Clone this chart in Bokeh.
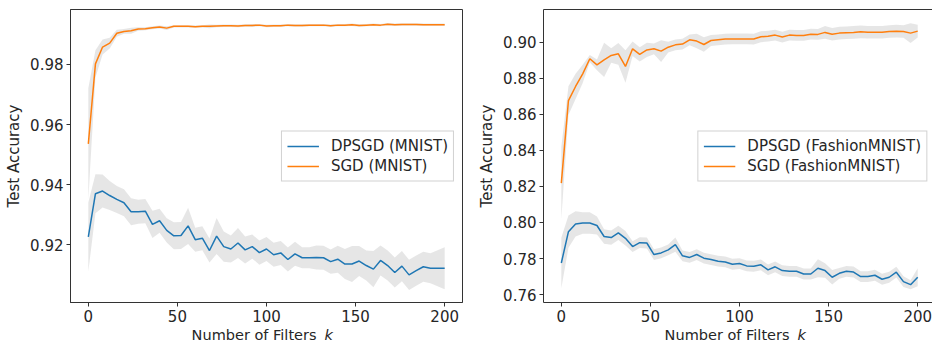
from bokeh.plotting import figure
from bokeh.models import Range1d, FixedTicker, PrintfTickFormatter, Legend, LegendItem, Label, LinearAxis
from bokeh.layouts import row, column
from bokeh.embed import file_html
from bokeh.resources import INLINE

# ---------------- data ----------------
k_filters = [0, 4, 8, 12, 16, 20, 24, 28, 32, 36, 40, 44, 48, 52, 56, 60, 64, 68, 72, 76,
             80, 84, 88, 92, 96, 100, 104, 108, 112, 116, 120, 124, 128, 132, 136, 140,
             144, 148, 152, 156, 160, 164, 168, 172, 176, 180, 184, 188, 192, 196, 200]

mnist_sgd_mean = [0.9536, 0.9802, 0.9858, 0.9871, 0.9904, 0.9910, 0.9912, 0.9918, 0.9919, 0.9922,
                  0.9925, 0.9921, 0.9927, 0.9927, 0.9927, 0.9926, 0.9927, 0.9927, 0.9928, 0.9929,
                  0.9929, 0.9928, 0.9930, 0.9930, 0.9931, 0.9928, 0.9929, 0.9929, 0.9931, 0.9930,
                  0.9930, 0.9931, 0.9931, 0.9931, 0.9929, 0.9931, 0.9931, 0.9932, 0.9930, 0.9931,
                  0.9932, 0.9931, 0.9934, 0.9932, 0.9933, 0.9933, 0.9933, 0.9932, 0.9932, 0.9932, 0.9932]
mnist_sgd_hw = [0.0185, 0.0045, 0.0025, 0.0018, 0.0012, 0.0008, 0.0010, 0.0006, 0.0005, 0.0005,
                0.0005, 0.0006, 0.0004, 0.0004, 0.0004, 0.0004, 0.0004, 0.0006, 0.0004, 0.0004,
                0.0004, 0.0004, 0.0004, 0.0005, 0.0004, 0.0004, 0.0004, 0.0004, 0.0004, 0.0004,
                0.0004, 0.0004, 0.0004, 0.0004, 0.0004, 0.0004, 0.0004, 0.0004, 0.0004, 0.0004,
                0.0004, 0.0004, 0.0004, 0.0004, 0.0004, 0.0004, 0.0004, 0.0004, 0.0004, 0.0004, 0.0004]

mnist_dp_mean = [0.9226, 0.9370, 0.9379, 0.9364, 0.9351, 0.9340, 0.9310, 0.9310, 0.9312, 0.9268,
                 0.9280, 0.9248, 0.9230, 0.9231, 0.9263, 0.9217, 0.9222, 0.9181, 0.9229, 0.9194,
                 0.9186, 0.9206, 0.9183, 0.9194, 0.9174, 0.9186, 0.9167, 0.9173, 0.9151, 0.9170,
                 0.9157, 0.9157, 0.9158, 0.9157, 0.9144, 0.9152, 0.9136, 0.9136, 0.9146, 0.9131,
                 0.9119, 0.9148, 0.9131, 0.9108, 0.9129, 0.9100, 0.9114, 0.9127, 0.9122, 0.9122, 0.9122]
mnist_dp_hw = [0.0115, 0.0065, 0.0055, 0.0048, 0.0045, 0.0045, 0.0045, 0.0040, 0.0040, 0.0045,
               0.0040, 0.0040, 0.0045, 0.0045, 0.0060, 0.0040, 0.0040, 0.0040, 0.0060, 0.0050,
               0.0045, 0.0050, 0.0045, 0.0040, 0.0040, 0.0040, 0.0040, 0.0040, 0.0040, 0.0040,
               0.0035, 0.0035, 0.0040, 0.0040, 0.0040, 0.0045, 0.0050, 0.0060, 0.0050, 0.0050,
               0.0060, 0.0050, 0.0050, 0.0050, 0.0050, 0.0050, 0.0050, 0.0050, 0.0050, 0.0060, 0.0070]

fashion_sgd_mean = [0.8218, 0.8676, 0.8754, 0.8824, 0.8908, 0.8874, 0.8902, 0.8926, 0.8935, 0.8865,
                    0.8963, 0.8932, 0.8957, 0.8963, 0.8950, 0.8972, 0.8985, 0.8989, 0.9013, 0.9006,
                    0.8987, 0.9009, 0.9013, 0.9017, 0.9018, 0.9018, 0.9018, 0.9017, 0.9030, 0.9033,
                    0.9039, 0.9028, 0.9039, 0.9037, 0.9037, 0.9044, 0.9043, 0.9054, 0.9044, 0.9050,
                    0.9052, 0.9054, 0.9057, 0.9055, 0.9055, 0.9055, 0.9059, 0.9061, 0.9059, 0.9050, 0.9061]
fashion_sgd_hw = [0.0200, 0.0080, 0.0070, 0.0050, 0.0020, 0.0030, 0.0095, 0.0040, 0.0060, 0.0090,
                  0.0040, 0.0040, 0.0040, 0.0030, 0.0060, 0.0030, 0.0030, 0.0030, 0.0030, 0.0040,
                  0.0040, 0.0030, 0.0030, 0.0030, 0.0030, 0.0030, 0.0030, 0.0030, 0.0030, 0.0030,
                  0.0030, 0.0030, 0.0030, 0.0030, 0.0030, 0.0030, 0.0030, 0.0035, 0.0035, 0.0035,
                  0.0035, 0.0035, 0.0035, 0.0035, 0.0035, 0.0035, 0.0035, 0.0035, 0.0035, 0.0055, 0.0035]

fashion_dp_mean = [0.7775, 0.7949, 0.7992, 0.7997, 0.7997, 0.7983, 0.7922, 0.7916, 0.7942, 0.7912,
                   0.7866, 0.7888, 0.7886, 0.7822, 0.7831, 0.7848, 0.7877, 0.7815, 0.7806, 0.7822,
                   0.7802, 0.7794, 0.7785, 0.7781, 0.7768, 0.7772, 0.7759, 0.7757, 0.7765, 0.7737,
                   0.7754, 0.7733, 0.7729, 0.7729, 0.7714, 0.7714, 0.7746, 0.7733, 0.7696, 0.7718,
                   0.7729, 0.7725, 0.7700, 0.7700, 0.7707, 0.7685, 0.7696, 0.7724, 0.7672, 0.7655, 0.7696]
fashion_dp_hw = [0.0140, 0.0090, 0.0070, 0.0060, 0.0060, 0.0050, 0.0040, 0.0040, 0.0040, 0.0040,
                 0.0030, 0.0030, 0.0030, 0.0030, 0.0030, 0.0030, 0.0040, 0.0030, 0.0030, 0.0030,
                 0.0030, 0.0030, 0.0030, 0.0030, 0.0030, 0.0030, 0.0030, 0.0030, 0.0030, 0.0030,
                 0.0030, 0.0030, 0.0030, 0.0030, 0.0030, 0.0030, 0.0050, 0.0040, 0.0040, 0.0030,
                 0.0030, 0.0030, 0.0030, 0.0030, 0.0030, 0.0030, 0.0030, 0.0030, 0.0030, 0.0025, 0.0050]

x_ticks = [0, 50, 100, 150, 200]
mnist_y_ticks = [0.92, 0.94, 0.96, 0.98]
fashion_y_ticks = [0.76, 0.78, 0.80, 0.82, 0.84, 0.86, 0.88, 0.90]
x_label_main = "Number of Filters"
x_label_var = "k"

# ---------------- style / layout ----------------
FONT = "DejaVu Sans"
BLUE = "#1f77b4"
ORANGE = "#ff7f0e"
SPINE = "#333333"
TXT = "#262626"
BORDER_L = 70
BORDER_T = 9
BORDER_B = 26
FRAME_H = 293
STRIP_H = 30     # strip under each panel for the x-axis title (window crops it)
TITLE_DOWN = 6   # px from strip top to the title's vertical middle


def band(p, mean, hw):
    lo = [m - h for m, h in zip(mean, hw)]
    hi = [m + h for m, h in zip(mean, hw)]
    p.varea(x=k_filters, y1=lo, y2=hi, fill_color="gray", fill_alpha=0.2)


def make_panel(dp_mean, dp_hw, sgd_mean, sgd_hw, name, y_rng, y_ticks, x_rng,
               frame_w, border_right, full_outline, legend_margin):
    xr = Range1d(*x_rng)
    p = figure(frame_width=frame_w, frame_height=FRAME_H,
               x_range=xr, y_range=Range1d(*y_rng),
               output_backend="svg", toolbar_location=None,
               min_border_left=BORDER_L, min_border_right=border_right,
               min_border_top=BORDER_T, min_border_bottom=BORDER_B,
               background_fill_color="white", border_fill_color="white")
    p.grid.grid_line_color = None
    xax = p.below[0]
    yax = p.left[0]

    band(p, dp_mean, dp_hw)
    band(p, sgd_mean, sgd_hw)
    l_dp = p.line(k_filters, dp_mean, line_color=BLUE, line_width=1.5)
    l_sgd = p.line(k_filters, sgd_mean, line_color=ORANGE, line_width=1.5)

    for ax in (xax, yax):
        ax.axis_line_color = SPINE
        ax.major_tick_line_color = SPINE
        ax.major_tick_out = 4
        ax.major_tick_in = 0
        ax.minor_tick_out = 0
        ax.minor_tick_in = 0
        ax.major_label_standoff = 3
        ax.major_label_text_font = FONT
        ax.major_label_text_font_size = "15px"
        ax.major_label_text_color = TXT
    xax.ticker = FixedTicker(ticks=x_ticks)
    yax.ticker = FixedTicker(ticks=y_ticks)
    yax.formatter = PrintfTickFormatter(format="%.2f")
    yax.axis_label = "Test Accuracy"
    yax.axis_label_text_font = FONT
    yax.axis_label_text_font_size = "15px"
    yax.axis_label_text_font_style = "normal"
    yax.axis_label_text_color = TXT
    yax.axis_label_standoff = 4

    if full_outline:
        p.outline_line_color = SPINE
        p.outline_line_width = 1
    else:
        p.outline_line_color = None
        top = LinearAxis(ticker=FixedTicker(ticks=[], minor_ticks=[]), axis_line_color=SPINE,
                         major_tick_out=0, major_tick_in=0, minor_tick_out=0, minor_tick_in=0,
                         major_label_text_font_size="0px", major_label_standoff=0)
        p.add_layout(top, "above")

    legend = Legend(items=[LegendItem(label=f"DPSGD ({name})", renderers=[l_dp]),
                           LegendItem(label=f"SGD ({name})", renderers=[l_sgd])],
                    location="center_right", margin=legend_margin,
                    label_text_font=FONT, label_text_font_size="15px", label_text_color=TXT,
                    glyph_width=32, glyph_height=19, label_height=19, label_standoff=12,
                    padding=5, spacing=1,
                    border_line_color="#cccccc", border_line_alpha=0.9,
                    background_fill_color="white", background_fill_alpha=0.8)
    p.add_layout(legend)

    # strip below the panel carrying the x-axis title; same frame geometry and x range
    q = figure(frame_width=frame_w, frame_height=STRIP_H,
               x_range=xr, y_range=Range1d(0, STRIP_H),
               output_backend="svg", toolbar_location=None,
               x_axis_type=None, y_axis_type=None,
               min_border_left=BORDER_L, min_border_right=border_right,
               min_border_top=0, min_border_bottom=0,
               background_fill_color="white", border_fill_color="white")
    q.outline_line_color = None
    q.grid.grid_line_color = None
    x_mid = 100
    y_mid = STRIP_H - TITLE_DOWN
    q.add_layout(Label(x=x_mid, y=y_mid, text=x_label_main, text_align="right",
                       text_baseline="middle", x_offset=50,
                       text_font=FONT, text_font_size="14.5px", text_color=TXT))
    q.add_layout(Label(x=x_mid, y=y_mid, text=x_label_var, text_align="left",
                       text_baseline="middle", x_offset=58,
                       text_font=FONT, text_font_size="14.5px", text_font_style="italic",
                       text_color=TXT))
    return column(p, q, spacing=0)


c1 = make_panel(mnist_dp_mean, mnist_dp_hw, mnist_sgd_mean, mnist_sgd_hw, "MNIST",
                (0.9008, 0.9983), mnist_y_ticks, (-10, 210), 392, 11, True, 8)
c2 = make_panel(fashion_dp_mean, fashion_dp_hw, fashion_sgd_mean, fashion_sgd_hw, "FashionMNIST",
                (0.7556, 0.9181), fashion_y_ticks, (-10, 208.3), 389, 0, False, 5)

layout = row(c1, c2, spacing=0)
open("out.html", "w").write(file_html(layout, INLINE))
